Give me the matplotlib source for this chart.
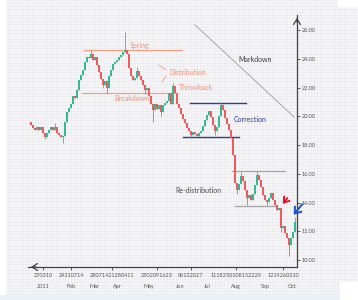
import numpy as np
import matplotlib
matplotlib.use('Agg')
import matplotlib.pyplot as plt

plt.rcParams['font.family'] = ['Lato', 'DejaVu Sans']

# daily closes (one candle per entry)
closes = [19.41, 19.20, 19.06, 19.27, 19.06, 19.27, 18.85, 18.57, 18.85, 19.06,
          19.27, 19.06, 19.27, 18.85, 18.71, 18.57, 18.64,
          19.62, 20.31, 20.59, 20.87, 21.43, 21.29, 21.85, 22.54, 22.89, 23.24,
          23.80, 24.15, 24.08, 24.36, 23.94, 24.15,
          23.59, 23.10, 22.61, 22.20, 22.47, 21.99, 22.82, 23.24, 23.66, 23.80,
          23.94, 24.15, 24.29, 24.49, 24.63,
          24.36, 23.38, 22.82, 22.54, 22.68, 23.17, 22.82, 22.54, 22.20, 21.85,
          21.99, 21.43, 20.87, 20.45,
          20.87, 20.52, 20.80, 20.31, 20.80, 20.94, 21.08, 21.64, 20.87, 22.13, 21.64,
          20.87, 20.59, 20.17, 19.83, 19.55, 19.20, 18.99, 18.71, 18.92, 18.78,
          18.64, 18.85, 18.99,
          19.34, 19.76, 20.10, 20.38, 19.97, 19.41, 18.99, 19.27, 20.03, 20.80,
          20.45, 19.90, 19.48, 19.06, 18.50,
          17.32, 15.37, 14.88, 15.30, 15.85, 15.51, 14.88, 14.32, 14.53, 14.18,
          14.60, 15.23,
          15.92, 15.57, 15.09, 14.53, 14.18, 14.04, 14.32, 14.67, 14.18, 13.83,
          13.48, 13.62,
          12.23, 12.37, 11.88, 11.53, 11.05, 11.53, 11.95, 12.65]
first_open = 19.60
# visible wicks: index -> (high, low)
wicks = {7: (None, 18.40), 12: (19.55, None), 16: (None, 18.15), 30: (24.63, None),
         36: (None, 21.95), 38: (None, 21.64), 47: (25.89, None), 53: (23.45, None),
         57: (None, 21.55), 61: (None, 19.62), 65: (None, 20.00), 71: (22.33, None),
         80: (None, 18.50), 92: (None, 18.70), 95: (21.01, None), 103: (None, 14.60),
         105: (16.13, None), 108: (None, 13.83), 113: (16.20, None), 118: (None, 13.80),
         125: (12.50, 11.95), 129: (None, 10.28), 132: (13.00, None)}

xtick_pos = [6, 20, 40.5, 63, 80, 102.5, 126]
xtick_labels = ['270310', '24310714', '28071421280411', '2502091623',
                '06132027', '1118250108152229', '1219260310']
month_pos = [6, 20, 31.5, 43, 59, 74.5, 88, 102.5, 117, 130.5]
month_labels = ['2011', 'Feb', 'Mar', 'Apr', 'May', 'Jun', 'Jul', 'Aug', 'Sep', 'Oct']
yticks = [10, 12, 14, 16, 18, 20, 22, 24, 26]

W, H = 358, 300
fig = plt.figure(figsize=(W / 100, H / 100), dpi=100)
fig.patch.set_facecolor('#f6f6f8')

# grid paper background, in pixel coords
bg = fig.add_axes([0, 0, 1, 1])
bg.set_xlim(0, W)
bg.set_ylim(H, 0)
bg.axis('off')
for gx in np.arange(5, W, 3):
    bg.axvline(gx, color='#e9e9ed', lw=0.4, zorder=0)
for gy in np.arange(0, 296, 3):
    bg.axhline(gy, color='#e9e9ed', lw=0.4, zorder=0)
bg.add_patch(plt.Rectangle((0, 0), 5, H, color='white', zorder=1))
bg.add_patch(plt.Rectangle((0, 295), 340, 5, color='#e9f1f8', zorder=1))
bg.add_patch(plt.Rectangle((340, 282), 18, 18, color='white', zorder=1))
bg.add_patch(plt.Rectangle((338, 0), 20, 6, color='white', zorder=1))

ax = fig.add_axes([28 / W, (H - 267) / H, (297 - 28) / W, (267 - 15) / H])
ax.set_facecolor('none')
ax.set_xlim(-1.5, 133)
ax.set_ylim(9.51, 27.07)

c = np.array(closes)
o = np.concatenate(([first_open], c[:-1]))
x = np.arange(len(c))
up = c >= o
green, red = '#34b995', '#ee5b5b'
cols = np.where(up, green, red)
for i in range(len(c)):
    hi, lo = wicks.get(i, (None, None))
    top, bot = max(o[i], c[i]), min(o[i], c[i])
    ax.vlines(i, lo if lo else bot, hi if hi else top, color=cols[i], lw=0.6, zorder=3)
ax.bar(x, np.maximum(np.abs(c - o), 0.05), bottom=np.minimum(o, c), width=0.75,
       color=cols, zorder=4)

# annotations
salmon, navy, grey = '#f0a285', '#2e3b8f', '#a4a4a8'
ax.plot([26.5, 75.5], [24.63, 24.63], color=salmon, lw=0.9, zorder=2)
ax.plot([25.5, 73], [21.64, 21.64], color=salmon, lw=0.9, zorder=2)
ax.text(49.5, 24.91, 'Spring', color='#ec9478', fontsize=5, va='center')
ax.text(41.5, 21.22, 'Breakdown', color='#ec9478', fontsize=5, va='center')
ax.text(69, 23.03, 'Distribution', color='#ec9478', fontsize=5, va='center')
ax.text(74, 21.99, 'Throwback', color='#ec9478', fontsize=5, va='center')
ax.plot([64, 67.5], [23.59, 23.24], color=salmon, lw=0.6)
ax.plot([65.5, 67.5], [22.40, 22.82], color=salmon, lw=0.6)

ax.plot([79.5, 107.5], [20.94, 20.94], color=navy, lw=1.0, zorder=2)
ax.plot([76, 104], [18.55, 18.55], color=navy, lw=1.0, zorder=2)
ax.text(101.5, 19.76, 'Correction', color=navy, fontsize=5, va='center')

ax.plot([82, 131.5], [26.38, 19.97], color='#9a9a9e', lw=0.6)
ax.text(103.5, 23.94, 'Markdown', color='#3a3a3e', fontsize=5, va='center')

ax.plot([100.5, 127], [16.20, 16.20], color=grey, lw=0.9, zorder=2)
ax.plot([102, 123], [13.76, 13.76], color=grey, lw=0.9, zorder=2)
ax.text(72, 14.81, 'Re-distribution', color='#4a4a4e', fontsize=5, va='center')

ax.annotate('', xy=(125, 13.76), xytext=(129, 14.46),
            arrowprops=dict(arrowstyle='->,head_length=0.35,head_width=0.25',
                            color='#e3142a', lw=1.4))
ax.annotate('', xy=(130.5, 13.0), xytext=(136.5, 14.04), annotation_clip=False,
            arrowprops=dict(arrowstyle='->,head_length=0.4,head_width=0.3',
                            color='#1f52c8', lw=1.4))

# axes styling
axis_col = '#444448'
for s in ['left', 'top']:
    ax.spines[s].set_visible(False)
for s in ['right', 'bottom']:
    ax.spines[s].set_color(axis_col)
    ax.spines[s].set_linewidth(0.9)
ax.annotate('', xy=(1, 1.0), xytext=(1, 0.96), xycoords='axes fraction',
            arrowprops=dict(arrowstyle='->,head_length=0.4,head_width=0.25',
                            color=axis_col, lw=0.9))
ax.annotate('', xy=(0, 0), xytext=(0.04, 0), xycoords='axes fraction',
            arrowprops=dict(arrowstyle='->,head_length=0.4,head_width=0.25',
                            color=axis_col, lw=0.9))

ax.yaxis.tick_right()
ax.set_yticks(yticks)
ax.set_yticklabels(['%.2f' % v for v in yticks])
ax.tick_params(axis='y', direction='out', length=2, width=0.6, color=axis_col,
               labelsize=4, labelcolor='#555558', pad=1.5)
ax.set_xticks(xtick_pos)
ax.set_xticklabels(xtick_labels)
ax.tick_params(axis='x', direction='out', length=2, width=0.6, color=axis_col,
               labelsize=4, labelcolor='#555558', pad=2)
for p, lab in zip(month_pos, month_labels):
    ax.text(p, -0.078, lab, transform=ax.get_xaxis_transform(), ha='center',
            va='center', fontsize=4, color='#555558')

fig.savefig('out.png', dpi=100)
